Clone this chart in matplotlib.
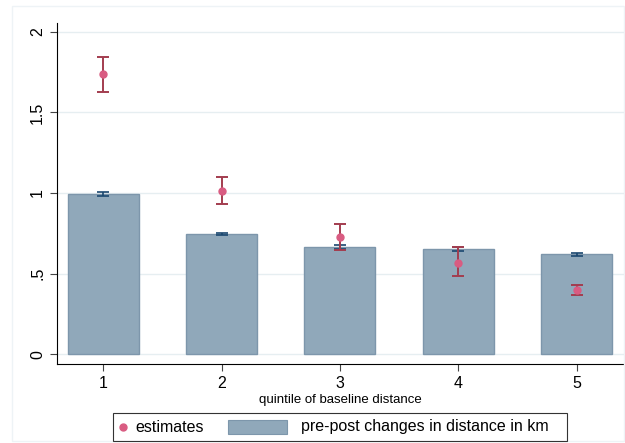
import numpy as np
import matplotlib.pyplot as plt
from matplotlib.lines import Line2D
from matplotlib.patches import Rectangle

plt.rcParams['font.family'] = ['Liberation Sans', 'DejaVu Sans']

# Data
quintiles = [1, 2, 3, 4, 5]
bar_vals = [0.994, 0.745, 0.665, 0.655, 0.620]
bar_err = [0.010, 0.008, 0.013, 0.013, 0.010]
est_vals = [1.739, 1.012, 0.729, 0.563, 0.398]
est_lo = [1.627, 0.930, 0.646, 0.484, 0.366]
est_hi = [1.845, 1.101, 0.810, 0.667, 0.430]
legend_labels = ["estimates", "pre-post changes in distance in km"]

bar_fill = "#90a8ba"
bar_edge = "#7d96ab"
navy = "#1a476f"
pink = "#d95c82"
maroon = "#a33d4f"

W, H = 625, 443
fig = plt.figure(figsize=(W / 100, H / 100), dpi=100)


def fx(px):
    return px / W


def fy(py):
    return 1 - py / H


# faint outer graph-region border
fig.patches.append(Rectangle((fx(12), fy(441)), fx(612), 435 / H, transform=fig.transFigure,
                             fill=False, edgecolor="#eef3f6", linewidth=1.0))
ax = fig.add_axes([0.0912, 0.178, 0.907, 0.771])

x = np.array(quintiles)
ax.bar(x, bar_vals, width=0.6, color=bar_fill, edgecolor=bar_edge, linewidth=1.0, zorder=2)
ax.errorbar(x, bar_vals, yerr=bar_err, fmt="none", ecolor=navy, elinewidth=1.2,
            capsize=4, capthick=1.2, zorder=3)

est = np.array(est_vals)
yerr = np.array([est - np.array(est_lo), np.array(est_hi) - est])
ax.errorbar(x, est, yerr=yerr, fmt="none", ecolor=maroon, elinewidth=1.4,
            capsize=4, capthick=1.4, zorder=4)
ax.plot(x, est, "o", color=pink, markersize=5, zorder=5)

ax.set_xlim(0.61, 5.4)
ax.set_ylim(-0.062, 2.058)
ax.set_yticks([0, 0.5, 1, 1.5, 2])
ax.set_yticklabels(["0", ".5", "1", "1.5", "2"], rotation=90, va="center", fontsize=11.5)
ax.set_xticks(quintiles)
ax.set_xticklabels([str(q) for q in quintiles], fontsize=11.5)
ax.tick_params(axis="both", length=5, color="#444444")
ax.grid(axis="y", color="#e6eef1", linewidth=1.0, zorder=0)
ax.set_axisbelow(True)
for s in ["top", "right"]:
    ax.spines[s].set_visible(False)
ax.set_xlabel("quintile of baseline distance", fontsize=9.5, labelpad=2)

# legend box (Stata style: dot key narrow, bar key wide)
fig.patches.append(Rectangle((fx(113), fy(441)), fx(454), 28 / H, transform=fig.transFigure,
                             fill=False, edgecolor="#333333", linewidth=0.8))
fig.lines.append(Line2D([fx(123)], [fy(427)], marker="o", linestyle="none", color=pink,
                        markersize=5, transform=fig.transFigure))
fig.text(fx(135), fy(427), legend_labels[0], fontsize=11.5, va="center", ha="left")
fig.patches.append(Rectangle((fx(228), fy(434)), fx(59), 14 / H, transform=fig.transFigure,
                             facecolor=bar_fill, edgecolor=bar_edge, linewidth=0.8))
fig.text(fx(301), fy(427), legend_labels[1], fontsize=11.5, va="center", ha="left")

fig.savefig("out.png", dpi=100)
